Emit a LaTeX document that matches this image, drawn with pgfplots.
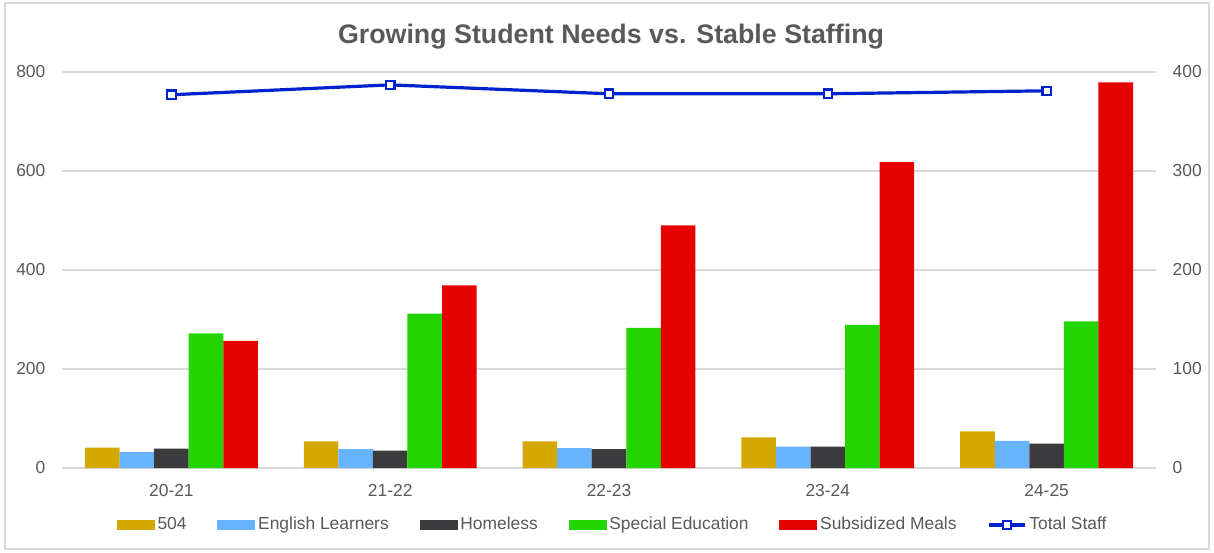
\documentclass[border=0pt]{standalone}
\usepackage{fontspec}
\setmainfont{Liberation Sans}
\usepackage{pgfplots}
\usepackage{pgfplotstable}
\pgfplotsset{compat=1.18}

\definecolor{txtgray}{HTML}{595959}
\definecolor{gridgray}{HTML}{D9D9D9}
\definecolor{framegray}{HTML}{D9D9D9}
\definecolor{c504}{HTML}{D4A800}
\definecolor{cel}{HTML}{66B3FF}
\definecolor{chom}{HTML}{3B3A3D}
\definecolor{csped}{HTML}{22D400}
\definecolor{cmeals}{HTML}{E60000}
\definecolor{cstaff}{HTML}{0022CC}

% student counts per school year (left axis) and total staff (right axis)
\pgfplotstableread{
x  s504 el  hom sped meals staff
0  41   32  39  272  257   377
1  54   38  35  312  369   387
2  54   40  38  283  490   378
3  62   43  43  289  618   378
4  74   55  49  296  779   381
}\needsdata

\pgfplotsset{
  barswatch/.style={
    legend image code/.code={\fill[##1, draw=none] (0pt,-2.6pt) rectangle (19pt,2.6pt);}
  },
  staffswatch/.style={
    legend image code/.code={
      \draw[##1] (0pt,0pt) -- (18pt,0pt);
      \draw[cstaff, fill=white, line width=1.1pt] (7pt,-2.1pt) rectangle (11pt,2.1pt);
    }
  },
  common/.style={
    scale only axis,
    width=547pt, height=198pt,
    at={(31pt,42pt)}, anchor=south west,
    xmin=-0.5, xmax=4.5,
    ymin=0,
    tick style={draw=none},
    major tick length=0pt,
    ticklabel style={font=\fontsize{8.7}{10}\selectfont, text=txtgray},
    /pgf/number format/assume math mode=true,
  },
}

\begin{document}
\begin{tikzpicture}
\path[use as bounding box] (0,0) rectangle (607pt,276pt);
\fill[white] (0,0) rectangle (607pt,276pt);
\draw[framegray, line width=0.8pt] (2.5pt,1.5pt) rectangle (604.5pt,274.5pt);

\node[anchor=base, text=txtgray, font=\fontsize{13.4}{15}\selectfont\bfseries]
  at (305.5pt,254pt) {Growing Student Needs vs. Stable Staffing};

% bars on the left axis
\begin{axis}[common,
  ymax=800, ytick={0,200,400,600,800},
  ymajorgrids, grid style={gridgray, line width=0.6pt},
  axis y line*=left, axis x line*=bottom,
  y axis line style={draw=none},
  x axis line style={gridgray, line width=0.8pt},
  xtick={0,1,2,3,4},
  xticklabels={20-21,21-22,22-23,23-24,24-25},
  xticklabel style={yshift=-4.5pt},
  yticklabel style={xshift=-4.8pt},
  ybar, bar width=0.158,
]
\addplot[fill=c504, draw=none, bar shift=-0.316] table[x=x,y=s504] {\needsdata};
\addplot[fill=cel, draw=none, bar shift=-0.158] table[x=x,y=el] {\needsdata};
\addplot[fill=chom, draw=none, bar shift=0] table[x=x,y=hom] {\needsdata};
\addplot[fill=csped, draw=none, bar shift=0.158] table[x=x,y=sped] {\needsdata};
\addplot[fill=cmeals, draw=none, bar shift=0.316] table[x=x,y=meals] {\needsdata};
\end{axis}

% total staff on the right axis
\begin{axis}[common,
  ymax=400, ytick={0,100,200,300,400},
  axis y line*=right, axis x line=none,
  y axis line style={draw=none},
  xtick=\empty,
  yticklabel style={xshift=4.8pt},
  legend columns=6,
  legend style={
    at={(0.5,0)}, anchor=center, xshift=2pt, yshift=-28.5pt,
    draw=none, fill=none,
    font=\fontsize{8.7}{10}\selectfont, text=txtgray,
    /tikz/every even column/.append style={column sep=14pt},
    nodes={inner sep=1.4pt},
  },
]
\addlegendimage{barswatch, fill=c504, draw=none}
\addlegendentry{504}
\addlegendimage{barswatch, fill=cel, draw=none}
\addlegendentry{English Learners}
\addlegendimage{barswatch, fill=chom, draw=none}
\addlegendentry{Homeless}
\addlegendimage{barswatch, fill=csped, draw=none}
\addlegendentry{Special Education}
\addlegendimage{barswatch, fill=cmeals, draw=none}
\addlegendentry{Subsidized Meals}
\addplot[cstaff, line width=1.6pt, mark=square*,
  mark options={fill=white, draw=cstaff, line width=1.1pt},
  mark size=2.1pt, staffswatch] table[x=x,y=staff] {\needsdata};
\addlegendentry{Total Staff}
\end{axis}
\end{tikzpicture}
\end{document}
